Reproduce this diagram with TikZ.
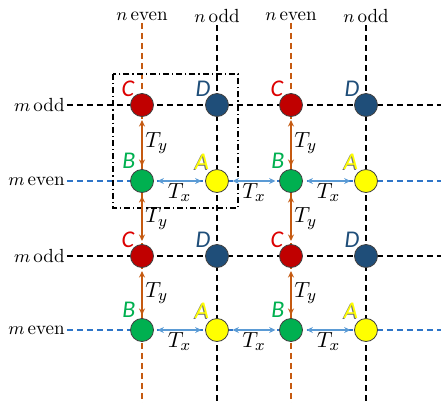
\documentclass[tikz,border=0pt]{standalone}
\usepackage{fontspec}
\newfontfamily\lblfont{Carlito}
\usetikzlibrary{arrows.meta,backgrounds}
\definecolor{cRed}{RGB}{192,0,0}
\definecolor{cRedT}{RGB}{220,0,0}
\definecolor{cNavy}{RGB}{31,78,121}
\definecolor{cGreen}{RGB}{0,176,80}
\definecolor{cYel}{RGB}{255,255,0}
\definecolor{cOrg}{RGB}{197,90,17}
\definecolor{cBlue}{RGB}{91,155,213}
\definecolor{cLineB}{RGB}{46,117,200}
\tikzset{
  site/.style={circle, draw=black!75, line width=0.4pt, minimum size=11.5pt, inner sep=0pt},
  gridk/.style={black, line width=0.6pt, dash pattern=on 3pt off 2pt},
  grido/.style={cOrg, line width=0.6pt, dash pattern=on 3pt off 2pt},
  gridb/.style={cLineB, line width=0.6pt, dash pattern=on 3pt off 2pt},
  tyarr/.style={{Stealth[length=3.2pt,width=3pt]}-{Stealth[length=3.2pt,width=3pt]}, cOrg, line width=0.9pt},
  txarr/.style={{Stealth[length=3.2pt,width=3pt]}-{Stealth[length=3.2pt,width=3pt]}, cBlue, line width=0.9pt},
  lettr/.style={font=\lblfont\itshape\fontsize{12}{14}\selectfont, inner sep=0pt},
  axl/.style={font=\fontsize{9.5}{11}\selectfont, inner sep=1pt},
  tylab/.style={font=\fontsize{11}{13}\selectfont, inner sep=1.2pt, text=black},
  txlab/.style={font=\fontsize{11}{13}\selectfont, inner sep=0.6pt, text=black}
}
\begin{document}
\begin{tikzpicture}[x=0.5pt,y=-0.5pt]
\useasboundingbox (0,0) rectangle (441,403);
% sites
\foreach \c/\x in {1/142,2/291}{
  \node[site, fill=cRed] (C\c a) at (\x,105) {};
  \node[site, fill=cGreen] (B\c a) at (\x,181) {};
  \node[site, fill=cRed] (C\c b) at (\x,256) {};
  \node[site, fill=cGreen] (B\c b) at (\x,330) {};
}
\foreach \c/\x in {1/217,2/366}{
  \node[site, fill=cNavy] (D\c a) at (\x,105) {};
  \node[site, fill=cYel] (A\c a) at (\x,181) {};
  \node[site, fill=cNavy] (D\c b) at (\x,256) {};
  \node[site, fill=cYel] (A\c b) at (\x,330) {};
}
% axis labels
\node[axl] (ne1) at (142,16) {$n\,$even};
\node[axl] (no1) at (217,16) {$n\,$odd};
\node[axl] (ne2) at (291,16) {$n\,$even};
\node[axl] (no2) at (366,16) {$n\,$odd};
\node[axl, anchor=east] (mo1) at (67,105) {$m\,$odd};
\node[axl, anchor=east] (me1) at (67,181) {$m\,$even};
\node[axl, anchor=east] (mo2) at (67,256) {$m\,$odd};
\node[axl, anchor=east] (me2) at (67,330) {$m\,$even};
\coordinate (bne1) at (142,403);
\coordinate (bno1) at (217,403);
\coordinate (bne2) at (291,403);
\coordinate (bno2) at (366,403);
\coordinate (rmo1) at (441,105);
\coordinate (rme1) at (441,181);
\coordinate (rmo2) at (441,256);
\coordinate (rme2) at (441,330);
\begin{scope}[on background layer]
  \draw[grido] (ne1.south) -- (bne1);
  \draw[grido] (ne2.south) -- (bne2);
  \draw[gridk] (no1.south) -- (bno1);
  \draw[gridk] (no2.south) -- (bno2);
  \draw[gridk] (mo1.east) -- (rmo1);
  \draw[gridk] (mo2.east) -- (rmo2);
  \draw[gridb] (me1.east) -- (rme1);
  \draw[gridb] (me2.east) -- (rme2);
\end{scope}
% unit cell frame
\draw[black, line width=0.6pt, dash pattern=on 3pt off 1.5pt on 0.6pt off 1.5pt] (113,74) rectangle (238,208);
% Ty arrows
\foreach \c in {1,2}{
  \draw[tyarr] ([yshift=-1.6pt]C\c a.south) -- ([yshift=1.6pt]B\c a.north) node[midway, right, tylab] {$T_y$};
  \draw[tyarr] ([yshift=-1.6pt]B\c a.south) -- ([yshift=1.6pt]C\c b.north) node[midway, right, tylab] {$T_y$};
  \draw[tyarr] ([yshift=-1.6pt]C\c b.south) -- ([yshift=1.6pt]B\c b.north) node[midway, right, tylab] {$T_y$};
}
% Tx arrows
\foreach \r in {a,b}{
  \draw[txarr] ([xshift=1.8pt]B1\r.east) -- ([xshift=-1.8pt]A1\r.west) node[midway, below, txlab] {$T_x$};
  \draw[txarr] ([xshift=1.8pt]A1\r.east) -- ([xshift=-1.8pt]B2\r.west) node[midway, below, txlab] {$T_x$};
  \draw[txarr] ([xshift=1.8pt]B2\r.east) -- ([xshift=-1.8pt]A2\r.west) node[midway, below, txlab] {$T_x$};
}
% site letters
\foreach \c in {1,2}{
  \foreach \r in {a,b}{
    \node[lettr, text=cRedT] at ([shift={(-14,-16)}]C\c\r.center) {C};
    \node[lettr, text=cNavy] at ([shift={(-14,-16)}]D\c\r.center) {D};
    \node[lettr, text=cGreen] at ([shift={(-13,-20)}]B\c\r.center) {B};
    \node[lettr, text=black!55] at ([shift={(-16,-18)}]A\c\r.center) {A};
    \node[lettr, text=cYel] at ([shift={(-15,-19)}]A\c\r.center) {A};
  }
}
\end{tikzpicture}
\end{document}
